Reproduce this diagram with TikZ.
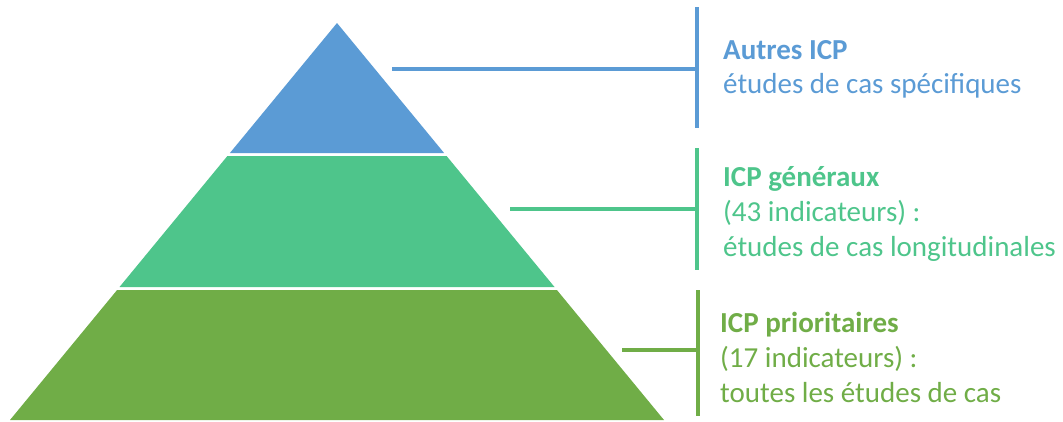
\documentclass[tikz,border=0pt]{standalone}
\usepackage{fontspec}
\setmainfont{Carlito}
\definecolor{cblue}{HTML}{5B9BD5}
\definecolor{cteal}{HTML}{4EC58B}
\definecolor{cgreen}{HTML}{70AD47}
\begin{document}
\begin{tikzpicture}[x=1pt,y=-1pt,
  lbl/.style={anchor=base west,inner sep=0pt,font=\fontsize{29}{33}\selectfont},
  conn/.style={line width=3.2pt}]
\useasboundingbox (0,0) rectangle (1063,421);
% pyramid layers
\fill[cblue] (337,23) -- (444.1,153) -- (229.9,153) -- cycle;
\fill[cteal] (227.4,156) -- (446.6,156) -- (554.5,287) -- (119.5,287) -- cycle;
\fill[cgreen] (117.1,290) -- (556.9,290) -- (664,420) -- (10,420) -- cycle;
% coordinates
\coordinate (b1) at (392,69); \coordinate (b2) at (697,69);
\coordinate (bt) at (697,7); \coordinate (bb) at (697,128);
\coordinate (t1) at (510,209); \coordinate (t2) at (697,209);
\coordinate (tt) at (697,148); \coordinate (tb) at (697,270);
\coordinate (g1) at (622,350); \coordinate (g2) at (698,350);
\coordinate (gt) at (698,290); \coordinate (gb) at (698,416);
\draw[conn,cblue] (b1) -- (b2); \draw[conn,cblue] (bt) -- (bb);
\draw[conn,cteal] (t1) -- (t2); \draw[conn,cteal] (tt) -- (tb);
\draw[conn,cgreen] (g1) -- (g2); \draw[conn,cgreen] (gt) -- (gb);
% labels
\node[lbl,text=cblue] (a1) at (723,59) {\bfseries Autres ICP};
\node[lbl,text=cblue] (a2) at (723,93) {études de cas spécifiques};
\node[lbl,text=cteal] (m1) at (723,186) {\bfseries ICP généraux};
\node[lbl,text=cteal] (m2) at (723,221) {(43 indicateurs) :};
\node[lbl,text=cteal] (m3) at (723,256) {études de cas longitudinales};
\node[lbl,text=cgreen] (p1) at (720,332) {\bfseries ICP prioritaires};
\node[lbl,text=cgreen] (p2) at (720,367) {(17 indicateurs) :};
\node[lbl,text=cgreen] (p3) at (720,402) {toutes les études de cas};
\end{tikzpicture}
\end{document}
